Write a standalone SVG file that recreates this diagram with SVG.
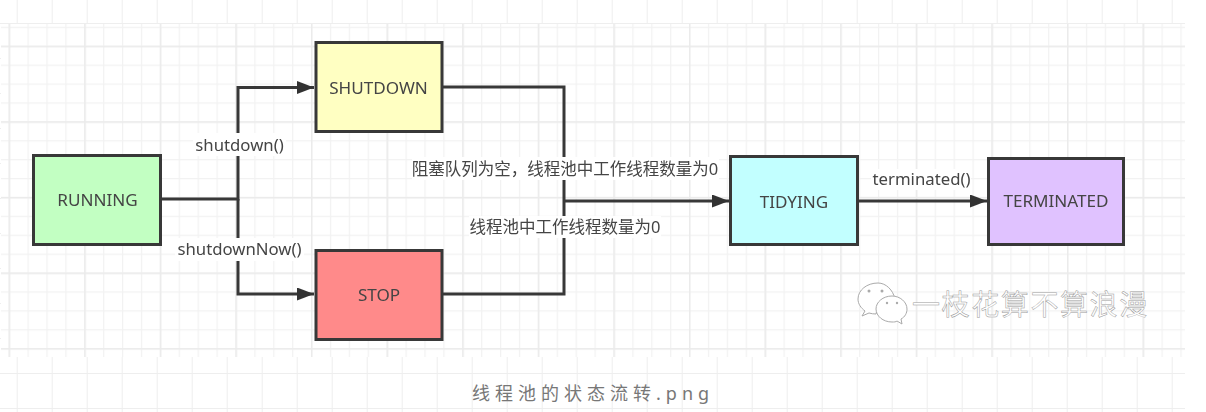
<svg xmlns="http://www.w3.org/2000/svg" width="1206" height="412" viewBox="0 0 1206 412">
<style>
text{font-family:"Noto Sans","Noto Sans CJK SC",sans-serif;fill:#444;font-size:16.750px}
.c{text-anchor:middle}
.n text{font-size:17.100px}
.zh{font-size:16.500px}
.n rect{stroke:#383838;stroke-width:3}
.l{fill:none;stroke:#383838;stroke-width:3}
.mk{fill:#fff}
.wm{font-size:28px;fill:#fff;stroke:#9a9a9a;stroke-width:.5;letter-spacing:1.600px}
.ic{fill:#fff;stroke:#aaa;stroke-width:1}
</style>
<defs>
<pattern id="mini" patternUnits="userSpaceOnUse" x="8.600" y="45.700" width="18.900" height="18.900"><path d="M.5 0V18.900M0 .5H18.900" fill="none" stroke="#f2f2f2" stroke-width="1.500"/></pattern>
<pattern id="maj" patternUnits="userSpaceOnUse" x="8.600" y="45.700" width="75.600" height="75.600"><path d="M.5 0V75.600M0 .5H75.600" fill="none" stroke="#ebebeb" stroke-width="2"/></pattern>
<pattern id="lite" patternUnits="userSpaceOnUse" x="16.700" y="23" width="35" height="35"><path d="M.5 0V35M0 .5H35" fill="none" stroke="#eee" stroke-width="1"/></pattern>
<marker id="a" markerUnits="userSpaceOnUse" markerWidth="18" markerHeight="14" refX="17" refY="6.500" orient="auto"><path d="M0 0L17 6.500L0 13Z" fill="#333"/></marker>
<filter id="b" x="-5%" y="-5%" width="110%" height="110%"><feGaussianBlur stdDeviation=".45"/></filter>
</defs>
<rect width="1206" height="412" fill="#fff"/>
<g id="grid">
<rect x="0" y="0" width="1185" height="412" fill="url(#lite)"/>
<rect x="1" y="24" width="1184" height="333" fill="#fff"/>
<rect x="1" y="24" width="1184" height="333" fill="url(#mini)"/>
<rect x="1" y="24" width="1184" height="333" fill="url(#maj)"/>
<rect x="1185" y="0" width="21" height="412" fill="#fff"/>
</g>
<g filter="url(#b)">
<g id="connectors">
<path class="l" d="M161 199H238V87.500H314" marker-end="url(#a)"/>
<path class="l" d="M238 199V294H314" marker-end="url(#a)"/>
<path class="l" d="M443 87H564V294H443"/>
<path class="l" d="M564 201H729" marker-end="url(#a)"/>
<path class="l" d="M858 201H987" marker-end="url(#a)"/>
<rect class="mk" x="193" y="133" width="93" height="23"/>
<text x="239.500" y="151" class="c">shutdown()</text>
<rect class="mk" x="175" y="238" width="129" height="23"/>
<text x="239.500" y="255" class="c">shutdownNow()</text>
<rect class="mk" x="412" y="157" width="307" height="23"/>
<text x="565" y="174.500" class="c zh">阻塞队列为空，线程池中工作线程数量为0</text>
<rect class="mk" x="469" y="216" width="192" height="22"/>
<text x="565" y="233" class="c zh">线程池中工作线程数量为0</text>
<rect class="mk" x="871" y="169" width="100" height="21"/>
<text x="921.500" y="185" class="c">terminated()</text>
</g>
<g id="running" class="n"><rect x="33.500" y="155.500" width="127" height="89" fill="#c2ffc2"/><text x="97.500" y="205.500" class="c">RUNNING</text></g>
<g id="shutdown" class="n"><rect x="316" y="42.500" width="126" height="89" fill="#ffffc2"/><text x="378.500" y="93.500" class="c">SHUTDOWN</text></g>
<g id="stop" class="n"><rect x="316" y="250.500" width="126" height="89" fill="#ff8a8a"/><text x="379" y="301" class="c">STOP</text></g>
<g id="tidying" class="n"><rect x="730.500" y="156.500" width="127" height="88" fill="#c2ffff"/><text x="794" y="207.500" class="c">TIDYING</text></g>
<g id="terminated" class="n"><rect x="988.500" y="158.500" width="135" height="86" fill="#e0c2ff"/><text x="1056" y="207" class="c">TERMINATED</text></g>
</g>
<g id="watermark">
<path class="ic" d="M878 283c-11 0-20 7-20 16 0 5 3 9 7 12l-3 5 7-3c2 .7 5 1 7 1 1-7 8-14 19-15-2-9-9-16-17-16z"/>
<path class="ic" d="M892 296c-9 0-16 6-16 13s7 13 16 13c2 0 4 0 5-1l5 3-1-5c4-2 6-6 6-10 0-7-7-13-15-13z"/>
<circle cx="869" cy="291" r="1.500" fill="#aaa"/><circle cx="882" cy="291" r="1.500" fill="#aaa"/>
<circle cx="887" cy="303" r="1.200" fill="#aaa"/><circle cx="897" cy="303" r="1.200" fill="#aaa"/>
<text x="912" y="315" class="wm">一枝花算不算浪漫</text>
</g>
<text id="caption" x="472" y="400" style="font-size:18px;fill:#777;letter-spacing:5px">线程池的状态流转.png</text>
</svg>
